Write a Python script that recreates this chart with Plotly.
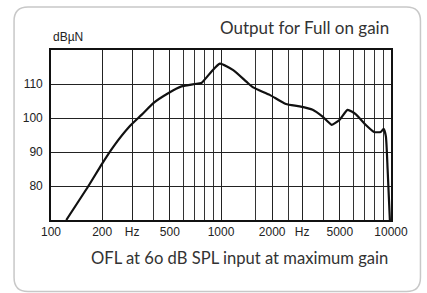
import plotly.graph_objects as go

freq_hz = [123, 166, 200, 233, 292, 342, 400, 489, 585, 700, 766, 880, 985,
           1180, 1410, 1545, 1935, 2410, 2900, 3460, 3960, 4480, 4990, 5550,
           6220, 7090, 7950, 8700, 9050, 9330, 9550, 9850]
level_db = [70, 80, 86.6, 91.6, 97.7, 101, 104.4, 107.3, 109.3, 110, 110.3, 113.7, 116,
            114.1, 110.7, 109, 106.8, 104.1, 103.4, 102.4, 100.4, 98, 99.5, 102.4,
            101.1, 98, 95.9, 95.9, 96.8, 94.6, 85, 70]

major_ticks = [100, 200, 300, 500, 1000, 2000, 3000, 5000, 10000]
major_text = ["100", "200", "Hz", "500", "1000", "2000", "Hz", "5000", "10000"]
minor_grid = [400, 600, 700, 800, 900, 1600, 2500, 4000, 6000, 7000, 8000, 9000]
y_ticks = [80, 90, 100, 110]

W, H = 427, 293
L, R, T, B = 51, 391.5, 50, 220

def px(x):
    return (x - L) / (R - L)

def py(y):
    return (B - y) / (B - T)

fig = go.Figure()
fig.add_trace(go.Scatter(x=freq_hz, y=level_db, mode="lines",
                         line=dict(color="#111", width=2.2, shape="spline", smoothing=0.5),
                         hoverinfo="skip", cliponaxis=True))

tick_font = dict(family="Liberation Sans, Arial", size=12, color="#222")

fig.update_xaxes(type="log", range=[2, 4], tickvals=major_ticks, ticktext=major_text,
                 showgrid=True, gridcolor="#222", gridwidth=1,
                 minor=dict(tickvals=minor_grid, showgrid=True, gridcolor="#333", gridwidth=1, ticks=""),
                 showline=True, linecolor="#111", linewidth=1.6, mirror=True,
                 ticks="", tickfont=tick_font, zeroline=False, automargin=False)
fig.update_yaxes(range=[70, 120], tickvals=y_ticks, showgrid=True, gridcolor="#222", gridwidth=1,
                 showline=True, linecolor="#111", linewidth=1.6, mirror=True,
                 ticks="", tickfont=tick_font, zeroline=False, ticklabelstandoff=4, automargin=False)

# rounded outer frame
x0, x1, y0, y1, r = px(14), px(421), py(291.5), py(7), 14
rx, ry = r / (R - L), r / (B - T)
path = (f"M {x0+rx} {y1} L {x1-rx} {y1} Q {x1} {y1} {x1} {y1-ry} "
        f"L {x1} {y0+ry} Q {x1} {y0} {x1-rx} {y0} L {x0+rx} {y0} "
        f"Q {x0} {y0} {x0} {y0+ry} L {x0} {y1-ry} Q {x0} {y1} {x0+rx} {y1} Z")
fig.add_shape(type="path", path=path, xref="paper", yref="paper",
              line=dict(color="#c8c8c8", width=1.5), layer="below")

fig.add_annotation(text="Output for Full on gain", xref="paper", yref="paper",
                   x=px(392), y=py(27), xanchor="right", yanchor="middle",
                   showarrow=False, font=dict(family="Lato, Open Sans, sans-serif", size=17, color="#333"))
fig.add_annotation(text="OFL at 6o dB SPL input at maximum gain", xref="paper", yref="paper",
                   x=px(390), y=py(258), xanchor="right", yanchor="middle",
                   showarrow=False, font=dict(family="Lato, Open Sans, sans-serif", size=16.6, color="#333"))
fig.add_annotation(text="dBµN", xref="paper", yref="paper",
                   x=px(51), y=py(37), xanchor="left", yanchor="middle",
                   showarrow=False, font=tick_font)

fig.update_layout(width=W, height=H, margin=dict(l=L, r=W - R, t=T, b=H - B),
                  paper_bgcolor="white", plot_bgcolor="white", showlegend=False)

fig.write_html("out.html", config={"displayModeBar": False},
               post_script="document.body.style.margin='0px';document.body.style.padding='0px';")
